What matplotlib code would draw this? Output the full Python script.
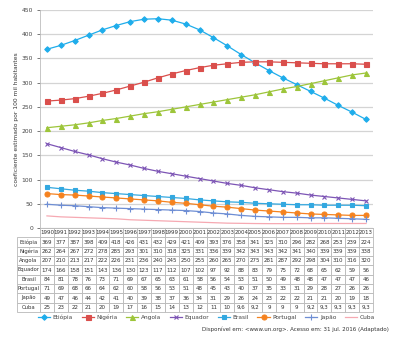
import matplotlib
matplotlib.use("Agg")
import matplotlib.pyplot as plt
import numpy as np

years = [str(y) for y in range(1990, 2014)]
countries = ["Etiópia", "Nigéria", "Angola", "Equador", "Brasil", "Portugal", "Japão", "Cuba"]

etiopia = [369, 377, 387, 398, 409, 418, 426, 431, 432, 429, 421, 409, 393, 376, 358, 341, 325, 310, 296, 282, 268, 253, 239, 224]
nigeria = [262, 264, 267, 272, 278, 285, 293, 301, 310, 318, 325, 331, 336, 339, 342, 343, 343, 342, 341, 340, 339, 339, 339, 338]
angola = [207, 210, 213, 217, 222, 226, 231, 236, 240, 245, 250, 255, 260, 265, 270, 275, 281, 287, 292, 298, 304, 310, 316, 320]
equador = [174, 166, 158, 151, 143, 136, 130, 123, 117, 112, 107, 102, 97, 92, 88, 83, 79, 75, 72, 68, 65, 62, 59, 56]
brasil = [84, 81, 78, 76, 73, 71, 69, 67, 65, 63, 61, 58, 56, 54, 53, 51, 50, 49, 48, 48, 47, 47, 47, 46]
portugal = [71, 69, 68, 66, 64, 62, 60, 58, 56, 53, 51, 48, 45, 43, 40, 37, 35, 33, 31, 29, 28, 27, 26, 26]
japao = [49, 47, 46, 44, 42, 41, 40, 39, 38, 37, 36, 34, 31, 29, 26, 24, 23, 22, 22, 21, 21, 20, 19, 18]
cuba = [25, 23, 22, 21, 20, 19, 17, 16, 15, 14, 13, 12, 11, 10, 9.6, 9.2, 9, 9, 9, 9.2, 9.3, 9.3, 9.3, 9.3]

series = [etiopia, nigeria, angola, equador, brasil, portugal, japao, cuba]
colors = ["#1FADEB", "#DA4F4C", "#9DC53A", "#7D55B5", "#33A8E0", "#F5821F", "#6E8ED4", "#F6A9B2"]
markers = ["D", "s", "^", "x", "s", "o", "+", None]
msizes = [2.8, 3.6, 3.6, 3.4, 3.4, 3.6, 4.0, 0]

fig = plt.figure(figsize=(4.0, 3.43), dpi=100)
ax = fig.add_axes([0.1, 1 - 228 / 343, 0.8325, (228 - 10) / 343])

x = np.arange(len(years))
for name, vals, c, m, ms in zip(countries, series, colors, markers, msizes):
    ax.plot(x, vals, color=c, lw=0.9, marker=m, markersize=ms, mew=0.8,
            label=name, zorder=3)

ax.set_xlim(-0.5, len(years) - 0.5)
ax.set_ylim(0, 450)
ax.set_yticks(range(0, 451, 50))
ax.set_xticks([])
ax.grid(axis="y", color="#d4d4d4", lw=0.9)
ax.set_axisbelow(True)
for s in ["top", "right"]:
    ax.spines[s].set_visible(False)
ax.spines["left"].set_color("#bdbdbd")
ax.spines["left"].set_linewidth(0.6)
ax.spines["bottom"].set_color("#bdbdbd")
ax.spines["bottom"].set_linewidth(0.6)
ax.tick_params(axis="y", labelsize=4.3, colors="#444444", length=2, width=0.5,
               pad=3)
ax.set_ylabel("coeficiente estimado por 100 mil habitantes", fontsize=4.3,
              color="#333333", labelpad=2)

# table
cell_text = [[""] + years]
for name, vals in zip(countries, series):
    cell_text.append([name] + [("%g" % v).replace(".", ",") for v in vals])

w0 = 23 / 333
col_w = [w0] + [1.0 / len(years)] * len(years)
tbl = ax.table(cellText=cell_text, colWidths=col_w,
               bbox=[-w0, -(312 - 228) / 218, 1 + w0, (312 - 228) / 218],
               cellLoc="center")
tbl.auto_set_font_size(False)
tbl.set_fontsize(4.0)
for (r, c), cell in tbl.get_celld().items():
    cell.set_edgecolor("#b8b8b8")
    cell.set_linewidth(0.6)
    cell.get_text().set_color("#333333")
    cell.PAD = 0.04
    if r == 0 and c == 0:
        cell.visible_edges = ""
    if c == 0 and r > 0:
        cell.get_text().set_fontsize(3.8)
        cell._loc = "left"

fig.legend(loc="center", bbox_to_anchor=(0.516, 1 - 317 / 343), ncol=8,
           fontsize=4.2, frameon=False, handlelength=2.1, columnspacing=1.5,
           handletextpad=0.4, labelcolor="#444444")

fig.text(0.9725, 1 - 329 / 343,
         "Disponível em: <www.un.org>. Acesso em: 31 jul. 2016 (Adaptado)",
         ha="right", va="center", fontsize=4.0, color="#333333")

fig.savefig("out.png", dpi=100)
